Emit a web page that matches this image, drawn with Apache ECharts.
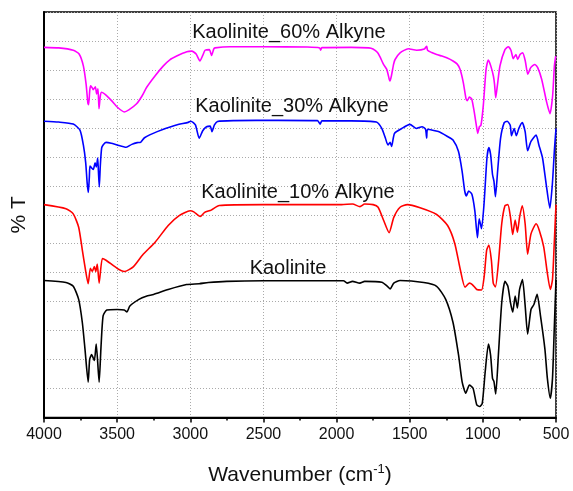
<!DOCTYPE html>
<html>
<head>
<meta charset="utf-8">
<script src="https://cdn.jsdelivr.net/npm/echarts@6/dist/echarts.min.js"></script>
<style>
  html, body { margin: 0; padding: 0; background: #fff; }
  #chart { width: 573px; height: 491px; }
</style>
</head>
<body>
<div id="chart"></div>
<script>
// [wavenumber, %T offset units]
const alkyne60 = [
  [4000,12.78],[3900,12.76],[3800,12.68],[3760,12.55],[3731,12.14],[3712,11.5],[3700,10.85],[3695,10.80],
  [3687,11.3],[3681,11.45],[3670,11.38],[3663,11.32],[3649,11.42],[3640,11.17],[3631,11.35],[3624,10.66],
  [3615,11.1],[3606,11.23],[3580,11.15],[3540,10.95],[3500,10.72],[3451,10.55],[3420,10.62],[3367,10.83],
  [3330,11.1],[3298,11.40],[3240,11.8],[3184,12.14],[3140,12.35],[3093,12.48],[3024,12.63],[2990,12.65],
  [2960,12.55],[2934,12.31],[2915,12.5],[2899,12.68],[2870,12.7],[2854,12.5],[2840,12.72],[2831,12.76],
  [2729,12.80],[2500,12.80],[2200,12.79],[2115,12.76],[2109,12.68],[2100,12.77],[1900,12.78],[1780,12.76],
  [1751,12.72],[1720,12.6],[1703,12.45],[1680,12.2],[1657,12.02],[1640,11.68],[1635,11.62],[1625,11.8],
  [1610,12.2],[1600,12.36],[1566,12.59],[1510,12.73],[1452,12.68],[1400,12.72],[1384,12.82],[1378,12.68],
  [1350,12.6],[1316,12.53],[1280,12.48],[1247,12.42],[1204,12.31],[1175,12.2],[1156,12.02],[1134,11.57],
  [1115,11.0],[1106,10.94],[1092,11.06],[1076,11.0],[1059,10.55],[1045,10.1],[1035,9.81],[1024,10.04],
  [1013,10.09],[997,10.77],[978,12.02],[963,12.34],[946,12.14],[928,11.79],[920,11.5],[912,11.04],
  [901,11.45],[883,12.14],[849,12.70],[826,12.80],[808,12.68],[792,12.39],[774,12.53],[762,12.36],
  [746,12.53],[728,12.59],[710,12.31],[693,11.85],[673,12.08],[644,12.19],[625,12.08],[598,11.68],
  [564,10.89],[541,10.49],[523,11.11],[511,12.14],[502,12.48],[500,12.5]
];
const alkyne30 = [
  [4000,10.23],[3900,10.20],[3800,10.13],[3754,9.92],[3731,9.41],[3715,8.8],[3705,8.1],[3697,7.77],
  [3690,8.3],[3686,8.68],[3675,8.62],[3663,8.56],[3651,8.79],[3642,8.65],[3633,8.96],[3628,8.5],
  [3622,7.96],[3615,8.7],[3606,9.3],[3596,9.41],[3576,9.50],[3540,9.47],[3500,9.41],[3438,9.33],
  [3400,9.43],[3363,9.49],[3340,9.5],[3313,9.66],[3226,9.87],[3101,10.09],[3014,10.19],[2996,10.23],
  [2965,10.1],[2939,9.64],[2915,9.9],[2889,10.04],[2864,10.06],[2852,9.87],[2835,10.1],[2814,10.22],
  [2700,10.25],[2400,10.26],[2130,10.25],[2113,10.13],[2100,10.24],[1900,10.24],[1728,10.2],[1691,9.98],
  [1666,9.64],[1649,9.41],[1634,9.5],[1624,9.36],[1604,9.81],[1554,9.98],[1499,10.12],[1454,9.98],
  [1416,10.04],[1392,9.95],[1384,9.64],[1378,9.95],[1304,9.87],[1241,9.70],[1204,9.58],[1167,9.19],
  [1142,8.51],[1124,7.82],[1112,7.65],[1097,7.82],[1075,7.71],[1055,7.14],[1037,6.21],[1025,6.86],
  [1009,6.52],[992,7.37],[972,8.96],[959,9.32],[947,9.08],[934,8.39],[924,8.15],[914,7.62],
  [899,8.51],[879,9.64],[854,10.18],[834,10.23],[813,10.09],[804,9.73],[786,9.98],[771,9.73],
  [754,9.98],[731,10.18],[711,9.87],[694,9.21],[671,9.53],[636,9.75],[617,9.41],[592,8.96],
  [567,8.05],[542,7.23],[525,8.05],[510,9.3],[500,9.98]
];
const alkyne10 = [
  [4000,7.35],[3850,7.21],[3800,7.03],[3763,6.57],[3738,5.78],[3720,5.21],[3698,4.62],[3683,5.15],
  [3670,5.04],[3656,5.21],[3646,5.04],[3636,5.30],[3623,4.64],[3601,5.49],[3576,5.43],[3500,5.15],
  [3451,5.04],[3388,5.21],[3326,5.61],[3239,6.06],[3151,6.63],[3076,6.97],[3001,7.14],[2976,7.1],
  [2932,6.94],[2902,7.08],[2857,7.16],[2802,7.32],[2500,7.35],[1966,7.35],[1891,7.37],[1840,7.28],
  [1808,7.37],[1750,7.35],[1716,7.26],[1678,6.80],[1641,6.38],[1609,6.91],[1566,7.26],[1516,7.35],
  [1429,7.24],[1316,7.01],[1241,6.63],[1192,6.01],[1154,5.10],[1122,4.50],[1092,4.64],[1072,4.59],
  [1042,4.42],[1009,4.40],[991,4.87],[974,5.78],[959,5.95],[942,5.44],[929,4.64],[914,4.51],
  [894,5.32],[871,6.69],[849,7.31],[829,7.35],[811,6.91],[796,6.32],[779,6.82],[764,6.40],
  [749,6.91],[731,7.31],[711,6.69],[694,5.64],[671,6.34],[636,6.69],[614,6.46],[584,5.89],
  [559,4.98],[539,4.42],[524,4.76],[512,6.01],[500,7.35]
];
const kaolinite = [
  [4000,4.73],[3850,4.66],[3800,4.53],[3763,4.08],[3738,3.28],[3720,2.37],[3698,1.22],[3688,2.0],
  [3675,2.17],[3656,1.97],[3643,2.54],[3623,1.22],[3611,2.37],[3596,3.51],[3571,3.71],[3500,3.73],
  [3451,3.71],[3433,3.64],[3413,3.85],[3351,4.08],[3301,4.19],[3251,4.25],[3151,4.42],[3026,4.59],
  [2939,4.62],[2876,4.66],[2752,4.70],[2500,4.72],[1953,4.72],[1928,4.64],[1891,4.70],[1841,4.64],
  [1808,4.70],[1691,4.67],[1653,4.53],[1633,4.44],[1609,4.64],[1566,4.73],[1404,4.66],[1316,4.53],
  [1254,4.08],[1204,3.28],[1166,2.15],[1142,1.24],[1117,0.84],[1092,1.12],[1067,1.01],[1042,0.44],
  [1022,0.38],[1004,0.49],[984,1.58],[962,2.54],[947,2.15],[934,1.35],[924,1.24],[912,0.81],
  [894,2.15],[871,3.96],[849,4.70],[829,4.53],[811,3.96],[796,3.64],[779,4.19],[764,3.78],
  [749,4.42],[729,4.76],[711,3.87],[694,2.88],[671,3.73],[651,3.90],[629,4.25],[606,3.51],
  [576,2.37],[559,1.35],[539,0.67],[524,1.35],[512,3.05],[500,4.76]
];
const seriesNames = ["Kaolinite_60% Alkyne", "Kaolinite_30% Alkyne", "Kaolinite_10% Alkyne", "Kaolinite"];

const font = "'Liberation Sans', Arial, sans-serif";
const chart = echarts.init(document.getElementById("chart"));

const makeLine = (name, data, color) => ({
  name: name,
  type: "line",
  data: data,
  showSymbol: false,
  smooth: 0.2,
  lineStyle: { color: color, width: 1.6 },
  z: 3,
});

const label = (text, x, y) => ({
  type: "text",
  x: x,
  y: y,
  z: 10,
  style: { text: text, fill: "#111", font: "20px " + font, align: "center", verticalAlign: "middle" },
});

chart.setOption({
  animation: false,
  backgroundColor: "#fff",
  grid: { left: 44, right: 17, top: 12, bottom: 68, show: true, borderColor: "#000", borderWidth: 1.5 },
  xAxis: {
    type: "value",
    min: 500,
    max: 4000,
    interval: 500,
    inverse: true,
    name: "{t|Wavenumber (cm}{s|-1}{t|)}",
    nameLocation: "middle",
    nameGap: 45,
    nameTextStyle: {
      rich: {
        t: { fontSize: 21, fontFamily: font, color: "#111", lineHeight: 26 },
        s: { fontSize: 13, fontFamily: font, color: "#111", verticalAlign: "top", lineHeight: 14 },
      },
    },
    axisLine: { lineStyle: { color: "#000", width: 2 } },
    axisTick: { show: true, length: 5, lineStyle: { color: "#000", width: 1.5 } },
    minorTick: { show: true, splitNumber: 2, length: 3, lineStyle: { color: "#000", width: 1.5 } },
    axisLabel: { fontSize: 16, fontFamily: font, color: "#111", margin: 9, formatter: (v) => String(v) },
    splitLine: { show: true, lineStyle: { color: "#aaa", type: [1, 2], width: 1 } },
  },
  yAxis: {
    type: "value",
    min: 0,
    max: 14,
    interval: 1,
    name: "% T",
    nameLocation: "middle",
    nameGap: 14,
    nameTextStyle: { fontSize: 21, fontFamily: font, color: "#111" },
    axisLine: { show: true, lineStyle: { color: "#000", width: 2 } },
    axisTick: { show: false },
    axisLabel: { show: false },
    splitLine: { show: true, lineStyle: { color: "#aaa", type: [1, 2], width: 1 } },
  },
  series: [
    makeLine(seriesNames[0], alkyne60, "#ff00ff"),
    makeLine(seriesNames[1], alkyne30, "#0000ff"),
    makeLine(seriesNames[2], alkyne10, "#ff0000"),
    makeLine(seriesNames[3], kaolinite, "#000000"),
  ],
  graphic: [
    label(seriesNames[0], 289, 32),
    label(seriesNames[1], 292, 106),
    label(seriesNames[2], 298, 192),
    label(seriesNames[3], 288, 268),
  ],
});
</script>
</body>
</html>
